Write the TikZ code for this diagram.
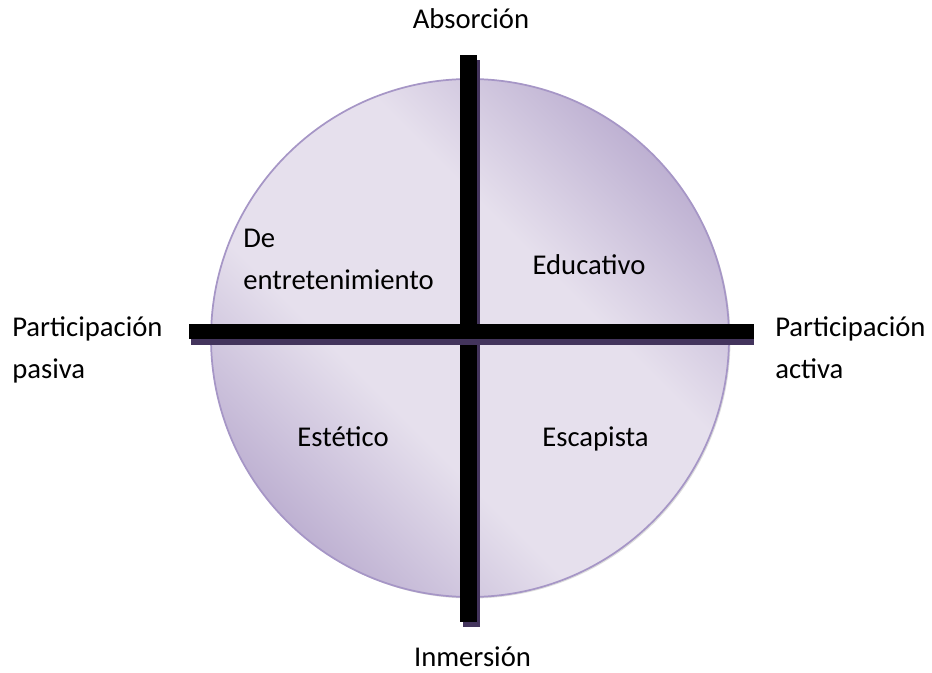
\documentclass[tikz,border=0pt]{standalone}
\usepackage{fontspec}
\setmainfont{Carlito}
\definecolor{pielight}{RGB}{230,224,237}
\definecolor{piedark}{RGB}{190,177,210}
\definecolor{pierim}{RGB}{166,150,198}
\definecolor{barshadow}{RGB}{67,52,92}
\pgfdeclareverticalshading{piefade}{100bp}{%
  color(0bp)=(piedark); color(25bp)=(piedark); color(40bp)=(pielight);
  color(60bp)=(pielight); color(75bp)=(piedark); color(100bp)=(piedark)}
\tikzset{
  lbl/.style={font=\fontsize{21.5}{31.5}\selectfont, inner sep=0pt, align=left},
  barbox/.style={fill=black, draw=none},
  barshade/.style={fill=barshadow, draw=none},
}
\begin{document}
\begin{tikzpicture}[x=0.75pt,y=-0.75pt]
\useasboundingbox (0,0) rectangle (932,673);
% pie
\fill[gray!45, opacity=0.6] (471.5,339.5) circle[radius=259];
\node[circle, minimum size=518*0.75pt, inner sep=0pt, draw=pierim, line width=1.3pt,
      shading=piefade, shading angle=-45] (pie) at (470,338) {};
% vertical bar
\fill[barshade] (463,60) rectangle (480,627);
\fill[barbox] (460,55) rectangle (477,622);
% horizontal bar
\fill[barshade] (191,330) rectangle (754,345);
\fill[barbox] (189,324) rectangle (754,339);
% axis labels
\node[lbl, anchor=base] (top) at (471,28.5) {Absorción};
\node[lbl, anchor=base] (bottom) at (472.5,666.5) {Inmersión};
\node[lbl, anchor=base west] (left) at (12,379) {Participación\\pasiva};
\node[lbl, anchor=base west] (right) at (775,379) {Participación\\activa};
% quadrant labels
\node[lbl, anchor=base west] (q1) at (243,290) {De\\entretenimiento};
\node[lbl, anchor=base] (q2) at (589,275) {Educativo};
\node[lbl, anchor=base] (q3) at (343,447) {Estético};
\node[lbl, anchor=base] (q4) at (595.5,447) {Escapista};
\end{tikzpicture}
\end{document}
